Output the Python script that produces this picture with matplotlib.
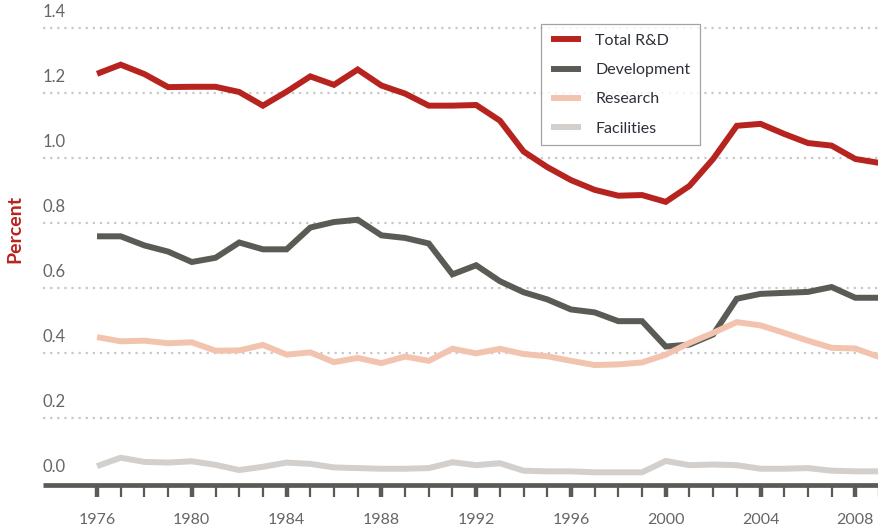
import matplotlib
matplotlib.use("Agg")
import matplotlib.pyplot as plt
import matplotlib.transforms as mtransforms

years = list(range(1976, 2010))
total_rd = [1.259, 1.287, 1.258, 1.218, 1.219, 1.219, 1.203, 1.161, 1.204, 1.251,
            1.225, 1.272, 1.223, 1.198, 1.161, 1.161, 1.163, 1.115, 1.020, 0.972,
            0.932, 0.902, 0.884, 0.886, 0.865, 0.914, 0.997, 1.099, 1.105, 1.074,
            1.046, 1.038, 0.997, 0.985]
development = [0.759, 0.759, 0.731, 0.712, 0.680, 0.693, 0.740, 0.719, 0.719, 0.786,
               0.803, 0.810, 0.762, 0.754, 0.737, 0.642, 0.670, 0.621, 0.587, 0.565,
               0.534, 0.525, 0.498, 0.498, 0.420, 0.426, 0.457, 0.567, 0.582, 0.585,
               0.588, 0.603, 0.570, 0.570]
research = [0.449, 0.436, 0.438, 0.430, 0.433, 0.407, 0.408, 0.425, 0.395, 0.402,
            0.372, 0.385, 0.369, 0.389, 0.376, 0.413, 0.399, 0.413, 0.397, 0.390,
            0.376, 0.363, 0.365, 0.371, 0.395, 0.431, 0.462, 0.495, 0.485, 0.462,
            0.438, 0.416, 0.414, 0.388]
facilities = [0.052, 0.078, 0.065, 0.063, 0.067, 0.056, 0.040, 0.050, 0.063, 0.059,
              0.048, 0.046, 0.044, 0.044, 0.046, 0.064, 0.055, 0.061, 0.038, 0.036,
              0.036, 0.033, 0.033, 0.033, 0.068, 0.055, 0.057, 0.055, 0.044, 0.044,
              0.046, 0.038, 0.036, 0.036]
series_names = ["Total R&D", "Development", "Research", "Facilities"]
series_colors = ["#b7241f", "#5a5b55", "#f2c4b0", "#d2cfcc"]
y_ticks = [0.0, 0.2, 0.4, 0.6, 0.8, 1.0, 1.2, 1.4]
x_major = list(range(1976, 2009, 4))

plt.rcParams['font.family'] = ['Lato', 'DejaVu Sans']

fig = plt.figure(figsize=(8.79, 5.31), dpi=100)
ax = fig.add_axes([43/879, 46/531, 1 - 43/879, 485/531])
ax.set_xlim(1973.72, 2008.97)
ax.set_ylim(-0.006, 1.486)

for yv in y_ticks[1:]:
    ax.axhline(yv, color="#c8c8c8", lw=1.6, linestyle=(0, (1, 2.2)), zorder=1)

for vals, name, col in zip([total_rd, development, research, facilities], series_names, series_colors):
    ax.plot(years, vals, color=col, lw=4.3, label=name, solid_joinstyle='miter',
            solid_capstyle='butt', zorder=3, clip_on=True)

for s in ["top", "right", "left"]:
    ax.spines[s].set_visible(False)
ax.spines["bottom"].set_color("#5a5b55")
ax.spines["bottom"].set_linewidth(3.4)
ax.spines["bottom"].set_capstyle('butt')

ax.set_yticks([])
ax.set_xticks(x_major)
ax.set_xticks(years, minor=True)
ax.tick_params(axis='x', which='major', direction='out', length=8.5, width=3.2,
               color="#5a5b55", pad=12, labelsize=11.5, labelcolor="#666666")
ax.tick_params(axis='x', which='minor', direction='out', length=8.5, width=1.6,
               color="#5a5b55")

trans = mtransforms.blended_transform_factory(ax.transAxes, ax.transData)
trans = trans + mtransforms.ScaledTranslation(0, 5.5/72, fig.dpi_scale_trans)
for yv in y_ticks:
    ax.text(0.0, yv, f"{yv:.1f}", transform=trans, ha='left', va='bottom',
            fontsize=12, color="#666666")

fig.text(15/879, 1 - 229/531, "Percent", rotation=90, ha='center', va='center',
         fontsize=14, fontweight='bold', color="#b7241f")

leg = ax.legend(loc='upper left', bbox_to_anchor=(541/879, 1 - 24/531),
                bbox_transform=fig.transFigure, frameon=True, fancybox=False,
                fontsize=11.5, handlelength=1.9, handletextpad=0.9,
                labelspacing=0.95, borderpad=0.6, borderaxespad=0)
leg.get_frame().set_edgecolor("#8c8c8c")
leg.get_frame().set_linewidth(0.9)
for t in leg.get_texts():
    t.set_color("#2d3039")

fig.savefig("out.png", dpi=100)
